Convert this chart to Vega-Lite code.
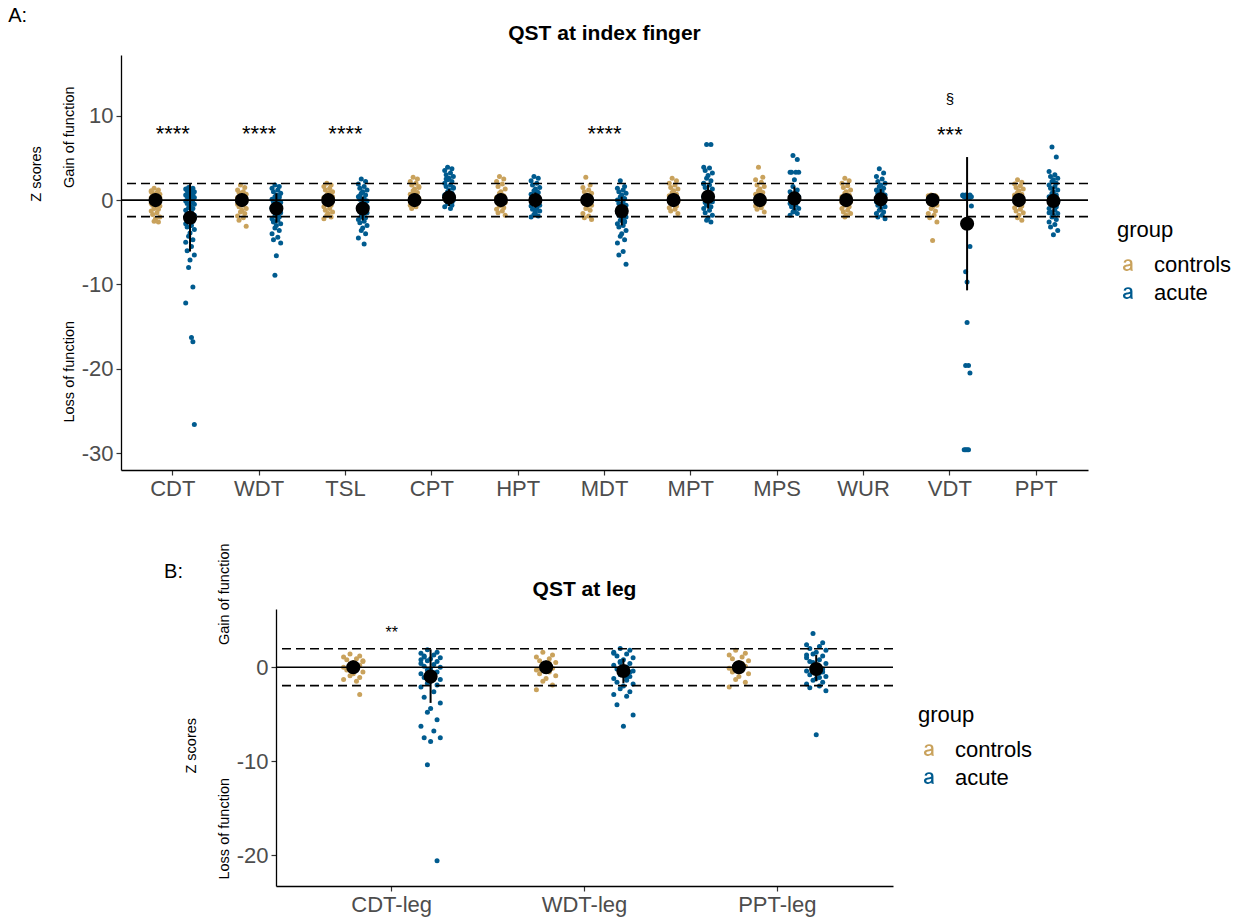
{
"$schema": "https://vega.github.io/schema/vega-lite/v6.json",
"background": "white",
"padding": {"left": 8, "top": 6, "right": 5, "bottom": 5},
"title": {"text": "A:", "anchor": "start", "frame": "bounds", "fontSize": 20, "fontWeight": "normal", "color": "#000000", "dx": -20, "offset": -3},
"config": {
 "font": "Liberation Sans",
 "view": {"stroke": null},
 "axis": {"grid": false, "domainColor": "#000000", "domainWidth": 1.3, "tickColor": "#333333", "tickWidth": 1.2, "tickSize": 5, "labelFontSize": 22, "labelColor": "#4D4D4D", "labelPadding": 3, "titleFontWeight": "normal", "titleColor": "#000000"},
 "axisX": {"labelAngle": 0, "title": null},
 "legend": {"orient": "none", "titleFontSize": 22, "titleFontWeight": "normal", "titleColor": "#000000", "labelFontSize": 22, "labelColor": "#000000", "symbolType": "M -0.78,-0.42 C -0.70,-0.88 -0.38,-1.0 0.0,-1.0 C 0.55,-1.0 0.78,-0.78 0.78,-0.30 L 0.78,0.55 C 0.78,0.78 0.82,0.90 0.88,1.0 L 0.48,1.0 C 0.44,0.94 0.42,0.86 0.41,0.78 C 0.20,0.95 -0.05,1.04 -0.30,1.04 C -0.65,1.04 -0.88,0.82 -0.88,0.50 C -0.88,0.05 -0.45,-0.05 -0.05,-0.10 C 0.20,-0.13 0.33,-0.16 0.38,-0.20 L 0.38,-0.30 C 0.38,-0.58 0.22,-0.68 -0.02,-0.68 C -0.25,-0.68 -0.36,-0.58 -0.40,-0.38 Z M 0.38,0.12 C 0.15,0.20 -0.05,0.22 -0.20,0.25 C -0.42,0.29 -0.48,0.40 -0.48,0.50 C -0.48,0.65 -0.36,0.74 -0.18,0.74 C 0.15,0.74 0.38,0.55 0.38,0.30 Z", "symbolSize": 130, "symbolStrokeWidth": 0, "rowPadding": 6, "titlePadding": 12, "labelOffset": 15},
 "title": {"fontSize": 21, "fontWeight": "bold", "color": "#000000", "offset": 10}
},
"datasets": {
 "refs": [{"v": 1.96}, {"v": -1.96}],
 "annA": [{"t":"CDT","lab":"****","z":7.0},{"t":"WDT","lab":"****","z":7.0},{"t":"TSL","lab":"****","z":7.0},{"t":"MDT","lab":"****","z":7.0},{"t":"VDT","lab":"***","z":6.9}],
 "annA2": [{"t":"VDT","lab":"§","z":11.4}],
 "annB": [{"t":"CDT-leg","lab":"**","z":3.06}],
 "sumA": [
  {"t":"CDT","g":"controls","m":0,"lo":-0.8,"hi":0.8},{"t":"CDT","g":"acute","m":-2.1,"lo":-6.1,"hi":1.9},
  {"t":"WDT","g":"controls","m":0,"lo":-0.8,"hi":0.8},{"t":"WDT","g":"acute","m":-1.0,"lo":-2.7,"hi":0.8},
  {"t":"TSL","g":"controls","m":0,"lo":-0.8,"hi":0.8},{"t":"TSL","g":"acute","m":-1.0,"lo":-2.4,"hi":0.4},
  {"t":"CPT","g":"controls","m":0,"lo":-0.8,"hi":0.8},{"t":"CPT","g":"acute","m":0.3,"lo":-0.7,"hi":1.3},
  {"t":"HPT","g":"controls","m":0,"lo":-0.8,"hi":0.8},{"t":"HPT","g":"acute","m":0.0,"lo":-0.9,"hi":0.9},
  {"t":"MDT","g":"controls","m":0,"lo":-0.8,"hi":0.8},{"t":"MDT","g":"acute","m":-1.3,"lo":-3.0,"hi":0.4},
  {"t":"MPT","g":"controls","m":0,"lo":-0.8,"hi":0.8},{"t":"MPT","g":"acute","m":0.4,"lo":-1.0,"hi":1.8},
  {"t":"MPS","g":"controls","m":0,"lo":-0.8,"hi":0.8},{"t":"MPS","g":"acute","m":0.2,"lo":-1.2,"hi":1.6},
  {"t":"WUR","g":"controls","m":0,"lo":-0.8,"hi":0.8},{"t":"WUR","g":"acute","m":0.1,"lo":-1.1,"hi":1.3},
  {"t":"VDT","g":"controls","m":0,"lo":-0.8,"hi":0.8},{"t":"VDT","g":"acute","m":-2.8,"lo":-10.7,"hi":5.1},
  {"t":"PPT","g":"controls","m":0,"lo":-0.8,"hi":0.8},{"t":"PPT","g":"acute","m":-0.1,"lo":-1.8,"hi":1.6}
 ],
 "sumB": [
  {"t":"CDT-leg","g":"controls","m":0,"lo":-0.7,"hi":0.7},{"t":"CDT-leg","g":"acute","m":-1.0,"lo":-3.8,"hi":1.9},
  {"t":"WDT-leg","g":"controls","m":0,"lo":-0.7,"hi":0.7},{"t":"WDT-leg","g":"acute","m":-0.4,"lo":-1.7,"hi":0.9},
  {"t":"PPT-leg","g":"controls","m":0,"lo":-0.7,"hi":0.7},{"t":"PPT-leg","g":"acute","m":-0.2,"lo":-1.5,"hi":1.3}
 ],
 "ptsA": [
{"t":"CDT","g":"controls","s":"c3","z":1.4},{"t":"CDT","g":"controls","s":"c6","z":1.2},{"t":"CDT","g":"controls","s":"c1","z":1.0},{"t":"CDT","g":"controls","s":"c5","z":0.9},{"t":"CDT","g":"controls","s":"c2","z":0.8},{"t":"CDT","g":"controls","s":"c7","z":0.7},{"t":"CDT","g":"controls","s":"c4","z":0.6},
{"t":"CDT","g":"controls","s":"c3","z":0.5},{"t":"CDT","g":"controls","s":"c6","z":0.4},{"t":"CDT","g":"controls","s":"c1","z":0.3},{"t":"CDT","g":"controls","s":"c5","z":0.2},{"t":"CDT","g":"controls","s":"c2","z":0.1},{"t":"CDT","g":"controls","s":"c7","z":0.0},{"t":"CDT","g":"controls","s":"c4","z":-0.1},
{"t":"CDT","g":"controls","s":"c3","z":-0.2},{"t":"CDT","g":"controls","s":"c6","z":-0.3},{"t":"CDT","g":"controls","s":"c1","z":-0.4},{"t":"CDT","g":"controls","s":"c5","z":-0.5},{"t":"CDT","g":"controls","s":"c2","z":-0.6},{"t":"CDT","g":"controls","s":"c7","z":-0.7},{"t":"CDT","g":"controls","s":"c4","z":-0.8},
{"t":"CDT","g":"controls","s":"c3","z":-1.0},{"t":"CDT","g":"controls","s":"c6","z":-1.1},{"t":"CDT","g":"controls","s":"c1","z":-1.3},{"t":"CDT","g":"controls","s":"c5","z":-1.5},{"t":"CDT","g":"controls","s":"c2","z":-1.7},{"t":"CDT","g":"controls","s":"c7","z":-2.0},{"t":"CDT","g":"controls","s":"c4","z":-2.2},
{"t":"CDT","g":"controls","s":"c3","z":-2.5},{"t":"CDT","g":"controls","s":"c6","z":-2.6},{"t":"CDT","g":"controls","s":"c1","z":1.1},{"t":"CDT","g":"controls","s":"c5","z":0.6},{"t":"CDT","g":"controls","s":"c2","z":-0.2},{"t":"CDT","g":"controls","s":"c7","z":0.3},
{"t":"CDT","g":"acute","s":"a3","z":1.5},{"t":"CDT","g":"acute","s":"a6","z":1.4},{"t":"CDT","g":"acute","s":"a1","z":1.3},{"t":"CDT","g":"acute","s":"a5","z":1.2},{"t":"CDT","g":"acute","s":"a2","z":1.1},{"t":"CDT","g":"acute","s":"a7","z":1.0},{"t":"CDT","g":"acute","s":"a4","z":0.9},
{"t":"CDT","g":"acute","s":"a3","z":0.8},{"t":"CDT","g":"acute","s":"a6","z":0.7},{"t":"CDT","g":"acute","s":"a1","z":0.6},{"t":"CDT","g":"acute","s":"a5","z":0.5},{"t":"CDT","g":"acute","s":"a2","z":0.4},{"t":"CDT","g":"acute","s":"a7","z":0.3},{"t":"CDT","g":"acute","s":"a4","z":0.2},
{"t":"CDT","g":"acute","s":"a3","z":0.1},{"t":"CDT","g":"acute","s":"a6","z":0.0},{"t":"CDT","g":"acute","s":"a1","z":-0.1},{"t":"CDT","g":"acute","s":"a5","z":-0.2},{"t":"CDT","g":"acute","s":"a2","z":-0.4},{"t":"CDT","g":"acute","s":"a7","z":-0.5},{"t":"CDT","g":"acute","s":"a4","z":-0.7},
{"t":"CDT","g":"acute","s":"a3","z":-0.9},{"t":"CDT","g":"acute","s":"a6","z":-1.0},{"t":"CDT","g":"acute","s":"a1","z":-1.2},{"t":"CDT","g":"acute","s":"a5","z":-1.4},{"t":"CDT","g":"acute","s":"a2","z":-1.6},{"t":"CDT","g":"acute","s":"a7","z":-1.8},{"t":"CDT","g":"acute","s":"a4","z":-2.0},
{"t":"CDT","g":"acute","s":"a3","z":-2.2},{"t":"CDT","g":"acute","s":"a6","z":-2.5},{"t":"CDT","g":"acute","s":"a1","z":-2.8},{"t":"CDT","g":"acute","s":"a5","z":-3.0},{"t":"CDT","g":"acute","s":"a2","z":-3.2},{"t":"CDT","g":"acute","s":"a7","z":-3.5},{"t":"CDT","g":"acute","s":"a4","z":-3.9},
{"t":"CDT","g":"acute","s":"a3","z":-4.3},{"t":"CDT","g":"acute","s":"a6","z":-4.7},{"t":"CDT","g":"acute","s":"a1","z":-5.0},{"t":"CDT","g":"acute","s":"a5","z":-5.5},{"t":"CDT","g":"acute","s":"a2","z":-6.0},{"t":"CDT","g":"acute","s":"a7","z":-6.5},{"t":"CDT","g":"acute","s":"a4","z":-7.1},
{"t":"CDT","g":"acute","s":"a3","z":-8.0},{"t":"CDT","g":"acute","s":"a6","z":-10.3},{"t":"CDT","g":"acute","s":"a1","z":-12.2},{"t":"CDT","g":"acute","s":"a5","z":-16.3},{"t":"CDT","g":"acute","s":"a6","z":-16.8},{"t":"CDT","g":"acute","s":"a7","z":-26.6},
{"t":"WDT","g":"controls","s":"c3","z":1.8},{"t":"WDT","g":"controls","s":"c6","z":1.5},{"t":"WDT","g":"controls","s":"c1","z":1.2},{"t":"WDT","g":"controls","s":"c5","z":1.0},{"t":"WDT","g":"controls","s":"c2","z":0.9},{"t":"WDT","g":"controls","s":"c7","z":0.7},{"t":"WDT","g":"controls","s":"c4","z":0.6},
{"t":"WDT","g":"controls","s":"c3","z":0.5},{"t":"WDT","g":"controls","s":"c6","z":0.4},{"t":"WDT","g":"controls","s":"c1","z":0.3},{"t":"WDT","g":"controls","s":"c5","z":0.2},{"t":"WDT","g":"controls","s":"c2","z":0.1},{"t":"WDT","g":"controls","s":"c7","z":0.0},{"t":"WDT","g":"controls","s":"c4","z":-0.1},
{"t":"WDT","g":"controls","s":"c3","z":-0.2},{"t":"WDT","g":"controls","s":"c6","z":-0.3},{"t":"WDT","g":"controls","s":"c1","z":-0.5},{"t":"WDT","g":"controls","s":"c5","z":-0.6},{"t":"WDT","g":"controls","s":"c2","z":-0.8},{"t":"WDT","g":"controls","s":"c7","z":-1.0},{"t":"WDT","g":"controls","s":"c4","z":-1.2},
{"t":"WDT","g":"controls","s":"c3","z":-1.4},{"t":"WDT","g":"controls","s":"c6","z":-1.6},{"t":"WDT","g":"controls","s":"c1","z":-1.9},{"t":"WDT","g":"controls","s":"c5","z":-2.1},{"t":"WDT","g":"controls","s":"c2","z":-2.4},{"t":"WDT","g":"controls","s":"c7","z":-3.1},{"t":"WDT","g":"controls","s":"c4","z":0.8},
{"t":"WDT","g":"controls","s":"c3","z":-0.4},{"t":"WDT","g":"controls","s":"c6","z":0.2},
{"t":"WDT","g":"acute","s":"a3","z":1.8},{"t":"WDT","g":"acute","s":"a6","z":1.6},{"t":"WDT","g":"acute","s":"a1","z":1.4},{"t":"WDT","g":"acute","s":"a5","z":1.2},{"t":"WDT","g":"acute","s":"a2","z":1.0},{"t":"WDT","g":"acute","s":"a7","z":0.8},{"t":"WDT","g":"acute","s":"a4","z":0.6},
{"t":"WDT","g":"acute","s":"a3","z":0.4},{"t":"WDT","g":"acute","s":"a6","z":0.3},{"t":"WDT","g":"acute","s":"a1","z":0.1},{"t":"WDT","g":"acute","s":"a5","z":0.0},{"t":"WDT","g":"acute","s":"a2","z":-0.2},{"t":"WDT","g":"acute","s":"a7","z":-0.3},{"t":"WDT","g":"acute","s":"a4","z":-0.5},
{"t":"WDT","g":"acute","s":"a3","z":-0.6},{"t":"WDT","g":"acute","s":"a6","z":-0.8},{"t":"WDT","g":"acute","s":"a1","z":-1.0},{"t":"WDT","g":"acute","s":"a5","z":-1.1},{"t":"WDT","g":"acute","s":"a2","z":-1.3},{"t":"WDT","g":"acute","s":"a7","z":-1.5},{"t":"WDT","g":"acute","s":"a4","z":-1.7},
{"t":"WDT","g":"acute","s":"a3","z":-1.9},{"t":"WDT","g":"acute","s":"a6","z":-2.0},{"t":"WDT","g":"acute","s":"a1","z":-2.2},{"t":"WDT","g":"acute","s":"a5","z":-2.4},{"t":"WDT","g":"acute","s":"a2","z":-2.6},{"t":"WDT","g":"acute","s":"a7","z":-2.8},{"t":"WDT","g":"acute","s":"a4","z":-3.0},
{"t":"WDT","g":"acute","s":"a3","z":-3.3},{"t":"WDT","g":"acute","s":"a6","z":-3.6},{"t":"WDT","g":"acute","s":"a1","z":-4.0},{"t":"WDT","g":"acute","s":"a5","z":-4.4},{"t":"WDT","g":"acute","s":"a2","z":-4.7},{"t":"WDT","g":"acute","s":"a7","z":-5.1},{"t":"WDT","g":"acute","s":"a4","z":-6.6},
{"t":"WDT","g":"acute","s":"a3","z":-8.9},{"t":"WDT","g":"acute","s":"a6","z":0.5},{"t":"WDT","g":"acute","s":"a1","z":-0.9},{"t":"WDT","g":"acute","s":"a5","z":-1.6},{"t":"WDT","g":"acute","s":"a2","z":-2.5},
{"t":"TSL","g":"controls","s":"c3","z":2.0},{"t":"TSL","g":"controls","s":"c6","z":1.8},{"t":"TSL","g":"controls","s":"c1","z":1.6},{"t":"TSL","g":"controls","s":"c5","z":1.4},{"t":"TSL","g":"controls","s":"c2","z":1.2},{"t":"TSL","g":"controls","s":"c7","z":1.0},{"t":"TSL","g":"controls","s":"c4","z":0.8},
{"t":"TSL","g":"controls","s":"c3","z":0.6},{"t":"TSL","g":"controls","s":"c6","z":0.5},{"t":"TSL","g":"controls","s":"c1","z":0.3},{"t":"TSL","g":"controls","s":"c5","z":0.2},{"t":"TSL","g":"controls","s":"c2","z":0.0},{"t":"TSL","g":"controls","s":"c7","z":-0.1},{"t":"TSL","g":"controls","s":"c4","z":-0.3},
{"t":"TSL","g":"controls","s":"c3","z":-0.4},{"t":"TSL","g":"controls","s":"c6","z":-0.6},{"t":"TSL","g":"controls","s":"c1","z":-0.8},{"t":"TSL","g":"controls","s":"c5","z":-1.0},{"t":"TSL","g":"controls","s":"c2","z":-1.2},{"t":"TSL","g":"controls","s":"c7","z":-1.4},{"t":"TSL","g":"controls","s":"c4","z":-1.6},
{"t":"TSL","g":"controls","s":"c3","z":-1.8},{"t":"TSL","g":"controls","s":"c6","z":-2.0},{"t":"TSL","g":"controls","s":"c1","z":-2.2},{"t":"TSL","g":"controls","s":"c5","z":0.9},{"t":"TSL","g":"controls","s":"c2","z":-0.5},{"t":"TSL","g":"controls","s":"c7","z":0.4},
{"t":"TSL","g":"acute","s":"a3","z":2.5},{"t":"TSL","g":"acute","s":"a6","z":2.2},{"t":"TSL","g":"acute","s":"a1","z":1.9},{"t":"TSL","g":"acute","s":"a5","z":1.6},{"t":"TSL","g":"acute","s":"a2","z":1.4},{"t":"TSL","g":"acute","s":"a7","z":1.2},{"t":"TSL","g":"acute","s":"a4","z":1.0},
{"t":"TSL","g":"acute","s":"a3","z":0.8},{"t":"TSL","g":"acute","s":"a6","z":0.6},{"t":"TSL","g":"acute","s":"a1","z":0.4},{"t":"TSL","g":"acute","s":"a5","z":0.2},{"t":"TSL","g":"acute","s":"a2","z":0.1},{"t":"TSL","g":"acute","s":"a7","z":-0.1},{"t":"TSL","g":"acute","s":"a4","z":-0.3},
{"t":"TSL","g":"acute","s":"a3","z":-0.5},{"t":"TSL","g":"acute","s":"a6","z":-0.7},{"t":"TSL","g":"acute","s":"a1","z":-0.9},{"t":"TSL","g":"acute","s":"a5","z":-1.1},{"t":"TSL","g":"acute","s":"a2","z":-1.3},{"t":"TSL","g":"acute","s":"a7","z":-1.5},{"t":"TSL","g":"acute","s":"a4","z":-1.7},
{"t":"TSL","g":"acute","s":"a3","z":-1.9},{"t":"TSL","g":"acute","s":"a6","z":-2.1},{"t":"TSL","g":"acute","s":"a1","z":-2.3},{"t":"TSL","g":"acute","s":"a5","z":-2.5},{"t":"TSL","g":"acute","s":"a2","z":-2.7},{"t":"TSL","g":"acute","s":"a7","z":-3.0},{"t":"TSL","g":"acute","s":"a4","z":-3.3},
{"t":"TSL","g":"acute","s":"a3","z":-3.6},{"t":"TSL","g":"acute","s":"a6","z":-4.0},{"t":"TSL","g":"acute","s":"a1","z":-4.5},{"t":"TSL","g":"acute","s":"a5","z":-5.2},{"t":"TSL","g":"acute","s":"a2","z":0.5},{"t":"TSL","g":"acute","s":"a7","z":-0.8},{"t":"TSL","g":"acute","s":"a4","z":-1.4},
{"t":"TSL","g":"acute","s":"a3","z":-2.0},
{"t":"CPT","g":"controls","s":"c3","z":2.7},{"t":"CPT","g":"controls","s":"c6","z":2.5},{"t":"CPT","g":"controls","s":"c1","z":2.2},{"t":"CPT","g":"controls","s":"c5","z":2.0},{"t":"CPT","g":"controls","s":"c2","z":1.8},{"t":"CPT","g":"controls","s":"c7","z":1.5},{"t":"CPT","g":"controls","s":"c4","z":1.3},
{"t":"CPT","g":"controls","s":"c3","z":1.1},{"t":"CPT","g":"controls","s":"c6","z":0.9},{"t":"CPT","g":"controls","s":"c1","z":0.7},{"t":"CPT","g":"controls","s":"c5","z":0.5},{"t":"CPT","g":"controls","s":"c2","z":0.3},{"t":"CPT","g":"controls","s":"c7","z":0.2},{"t":"CPT","g":"controls","s":"c4","z":0.0},
{"t":"CPT","g":"controls","s":"c3","z":-0.2},{"t":"CPT","g":"controls","s":"c6","z":-0.4},{"t":"CPT","g":"controls","s":"c1","z":-0.6},{"t":"CPT","g":"controls","s":"c5","z":-0.8},{"t":"CPT","g":"controls","s":"c2","z":-1.0},{"t":"CPT","g":"controls","s":"c7","z":1.6},{"t":"CPT","g":"controls","s":"c4","z":0.8},
{"t":"CPT","g":"controls","s":"c3","z":0.1},{"t":"CPT","g":"controls","s":"c6","z":-0.3},
{"t":"CPT","g":"acute","s":"a3","z":3.9},{"t":"CPT","g":"acute","s":"a6","z":3.7},{"t":"CPT","g":"acute","s":"a1","z":3.5},{"t":"CPT","g":"acute","s":"a5","z":3.2},{"t":"CPT","g":"acute","s":"a2","z":3.0},{"t":"CPT","g":"acute","s":"a7","z":2.8},{"t":"CPT","g":"acute","s":"a4","z":2.6},
{"t":"CPT","g":"acute","s":"a3","z":2.4},{"t":"CPT","g":"acute","s":"a6","z":2.2},{"t":"CPT","g":"acute","s":"a1","z":2.0},{"t":"CPT","g":"acute","s":"a5","z":1.8},{"t":"CPT","g":"acute","s":"a2","z":1.6},{"t":"CPT","g":"acute","s":"a7","z":1.4},{"t":"CPT","g":"acute","s":"a4","z":1.2},
{"t":"CPT","g":"acute","s":"a3","z":1.0},{"t":"CPT","g":"acute","s":"a6","z":0.8},{"t":"CPT","g":"acute","s":"a1","z":0.6},{"t":"CPT","g":"acute","s":"a5","z":0.4},{"t":"CPT","g":"acute","s":"a2","z":0.2},{"t":"CPT","g":"acute","s":"a7","z":0.0},{"t":"CPT","g":"acute","s":"a4","z":-0.2},
{"t":"CPT","g":"acute","s":"a3","z":-0.4},{"t":"CPT","g":"acute","s":"a6","z":-0.6},{"t":"CPT","g":"acute","s":"a1","z":-0.8},{"t":"CPT","g":"acute","s":"a5","z":-1.0},{"t":"CPT","g":"acute","s":"a2","z":2.5},{"t":"CPT","g":"acute","s":"a7","z":1.5},{"t":"CPT","g":"acute","s":"a4","z":0.9},
{"t":"CPT","g":"acute","s":"a3","z":0.3},{"t":"CPT","g":"acute","s":"a6","z":-0.3},
{"t":"HPT","g":"controls","s":"c3","z":2.8},{"t":"HPT","g":"controls","s":"c6","z":2.5},{"t":"HPT","g":"controls","s":"c1","z":2.2},{"t":"HPT","g":"controls","s":"c5","z":1.9},{"t":"HPT","g":"controls","s":"c2","z":1.6},{"t":"HPT","g":"controls","s":"c7","z":1.3},{"t":"HPT","g":"controls","s":"c4","z":1.0},
{"t":"HPT","g":"controls","s":"c3","z":0.8},{"t":"HPT","g":"controls","s":"c6","z":0.5},{"t":"HPT","g":"controls","s":"c1","z":0.3},{"t":"HPT","g":"controls","s":"c5","z":0.1},{"t":"HPT","g":"controls","s":"c2","z":-0.1},{"t":"HPT","g":"controls","s":"c7","z":-0.3},{"t":"HPT","g":"controls","s":"c4","z":-0.5},
{"t":"HPT","g":"controls","s":"c3","z":-0.7},{"t":"HPT","g":"controls","s":"c6","z":-0.9},{"t":"HPT","g":"controls","s":"c1","z":-1.1},{"t":"HPT","g":"controls","s":"c5","z":-1.3},{"t":"HPT","g":"controls","s":"c2","z":-1.5},{"t":"HPT","g":"controls","s":"c7","z":-1.8},{"t":"HPT","g":"controls","s":"c4","z":0.6},
{"t":"HPT","g":"controls","s":"c3","z":-0.2},
{"t":"HPT","g":"acute","s":"a3","z":2.8},{"t":"HPT","g":"acute","s":"a6","z":2.6},{"t":"HPT","g":"acute","s":"a1","z":2.3},{"t":"HPT","g":"acute","s":"a5","z":2.0},{"t":"HPT","g":"acute","s":"a2","z":1.8},{"t":"HPT","g":"acute","s":"a7","z":1.5},{"t":"HPT","g":"acute","s":"a4","z":1.3},
{"t":"HPT","g":"acute","s":"a3","z":1.1},{"t":"HPT","g":"acute","s":"a6","z":0.9},{"t":"HPT","g":"acute","s":"a1","z":0.7},{"t":"HPT","g":"acute","s":"a5","z":0.5},{"t":"HPT","g":"acute","s":"a2","z":0.3},{"t":"HPT","g":"acute","s":"a7","z":0.1},{"t":"HPT","g":"acute","s":"a4","z":-0.1},
{"t":"HPT","g":"acute","s":"a3","z":-0.3},{"t":"HPT","g":"acute","s":"a6","z":-0.5},{"t":"HPT","g":"acute","s":"a1","z":-0.7},{"t":"HPT","g":"acute","s":"a5","z":-0.9},{"t":"HPT","g":"acute","s":"a2","z":-1.1},{"t":"HPT","g":"acute","s":"a7","z":-1.3},{"t":"HPT","g":"acute","s":"a4","z":-1.5},
{"t":"HPT","g":"acute","s":"a3","z":-1.7},{"t":"HPT","g":"acute","s":"a6","z":-1.9},{"t":"HPT","g":"acute","s":"a1","z":-2.0},{"t":"HPT","g":"acute","s":"a5","z":1.0},{"t":"HPT","g":"acute","s":"a2","z":0.2},{"t":"HPT","g":"acute","s":"a7","z":-0.6},{"t":"HPT","g":"acute","s":"a4","z":-1.2},
{"t":"MDT","g":"controls","s":"c3","z":2.7},{"t":"MDT","g":"controls","s":"c6","z":1.8},{"t":"MDT","g":"controls","s":"c1","z":1.5},{"t":"MDT","g":"controls","s":"c5","z":1.2},{"t":"MDT","g":"controls","s":"c2","z":1.0},{"t":"MDT","g":"controls","s":"c7","z":0.8},{"t":"MDT","g":"controls","s":"c4","z":0.6},
{"t":"MDT","g":"controls","s":"c3","z":0.4},{"t":"MDT","g":"controls","s":"c6","z":0.2},{"t":"MDT","g":"controls","s":"c1","z":0.0},{"t":"MDT","g":"controls","s":"c5","z":-0.2},{"t":"MDT","g":"controls","s":"c2","z":-0.4},{"t":"MDT","g":"controls","s":"c7","z":-0.6},{"t":"MDT","g":"controls","s":"c4","z":-0.8},
{"t":"MDT","g":"controls","s":"c3","z":-1.0},{"t":"MDT","g":"controls","s":"c6","z":-1.2},{"t":"MDT","g":"controls","s":"c1","z":-1.6},{"t":"MDT","g":"controls","s":"c5","z":-1.9},{"t":"MDT","g":"controls","s":"c2","z":-2.1},{"t":"MDT","g":"controls","s":"c7","z":-2.3},{"t":"MDT","g":"controls","s":"c4","z":0.5},
{"t":"MDT","g":"controls","s":"c3","z":-0.3},
{"t":"MDT","g":"acute","s":"a3","z":2.3},{"t":"MDT","g":"acute","s":"a6","z":1.6},{"t":"MDT","g":"acute","s":"a1","z":1.4},{"t":"MDT","g":"acute","s":"a5","z":1.2},{"t":"MDT","g":"acute","s":"a2","z":1.0},{"t":"MDT","g":"acute","s":"a7","z":0.8},{"t":"MDT","g":"acute","s":"a4","z":0.6},
{"t":"MDT","g":"acute","s":"a3","z":0.4},{"t":"MDT","g":"acute","s":"a6","z":0.2},{"t":"MDT","g":"acute","s":"a1","z":0.0},{"t":"MDT","g":"acute","s":"a5","z":-0.2},{"t":"MDT","g":"acute","s":"a2","z":-0.4},{"t":"MDT","g":"acute","s":"a7","z":-0.6},{"t":"MDT","g":"acute","s":"a4","z":-0.8},
{"t":"MDT","g":"acute","s":"a3","z":-1.0},{"t":"MDT","g":"acute","s":"a6","z":-1.2},{"t":"MDT","g":"acute","s":"a1","z":-1.4},{"t":"MDT","g":"acute","s":"a5","z":-1.6},{"t":"MDT","g":"acute","s":"a2","z":-1.8},{"t":"MDT","g":"acute","s":"a7","z":-2.0},{"t":"MDT","g":"acute","s":"a4","z":-2.2},
{"t":"MDT","g":"acute","s":"a3","z":-2.4},{"t":"MDT","g":"acute","s":"a6","z":-2.6},{"t":"MDT","g":"acute","s":"a1","z":-2.8},{"t":"MDT","g":"acute","s":"a5","z":-3.0},{"t":"MDT","g":"acute","s":"a2","z":-3.2},{"t":"MDT","g":"acute","s":"a7","z":-3.6},{"t":"MDT","g":"acute","s":"a4","z":-4.0},
{"t":"MDT","g":"acute","s":"a3","z":-4.3},{"t":"MDT","g":"acute","s":"a6","z":-4.7},{"t":"MDT","g":"acute","s":"a1","z":-5.1},{"t":"MDT","g":"acute","s":"a5","z":-6.1},{"t":"MDT","g":"acute","s":"a2","z":-6.5},{"t":"MDT","g":"acute","s":"a7","z":-7.6},{"t":"MDT","g":"acute","s":"a4","z":-0.5},
{"t":"MDT","g":"acute","s":"a3","z":-1.5},{"t":"MDT","g":"acute","s":"a6","z":-2.5},
{"t":"MPT","g":"controls","s":"c3","z":2.6},{"t":"MPT","g":"controls","s":"c6","z":2.3},{"t":"MPT","g":"controls","s":"c1","z":2.0},{"t":"MPT","g":"controls","s":"c5","z":1.8},{"t":"MPT","g":"controls","s":"c2","z":1.5},{"t":"MPT","g":"controls","s":"c7","z":1.3},{"t":"MPT","g":"controls","s":"c4","z":1.1},
{"t":"MPT","g":"controls","s":"c3","z":0.9},{"t":"MPT","g":"controls","s":"c6","z":0.7},{"t":"MPT","g":"controls","s":"c1","z":0.5},{"t":"MPT","g":"controls","s":"c5","z":0.3},{"t":"MPT","g":"controls","s":"c2","z":0.1},{"t":"MPT","g":"controls","s":"c7","z":-0.1},{"t":"MPT","g":"controls","s":"c4","z":-0.3},
{"t":"MPT","g":"controls","s":"c3","z":-0.5},{"t":"MPT","g":"controls","s":"c6","z":-0.7},{"t":"MPT","g":"controls","s":"c1","z":-0.9},{"t":"MPT","g":"controls","s":"c5","z":-1.1},{"t":"MPT","g":"controls","s":"c2","z":-1.3},{"t":"MPT","g":"controls","s":"c7","z":-1.6},{"t":"MPT","g":"controls","s":"c4","z":0.6},
{"t":"MPT","g":"controls","s":"c3","z":0.0},
{"t":"MPT","g":"acute","s":"a3","z":6.6},{"t":"MPT","g":"acute","s":"a6","z":6.6},{"t":"MPT","g":"acute","s":"a1","z":3.9},{"t":"MPT","g":"acute","s":"a5","z":3.8},{"t":"MPT","g":"acute","s":"a2","z":3.5},{"t":"MPT","g":"acute","s":"a7","z":3.2},{"t":"MPT","g":"acute","s":"a4","z":2.9},
{"t":"MPT","g":"acute","s":"a3","z":2.6},{"t":"MPT","g":"acute","s":"a6","z":2.3},{"t":"MPT","g":"acute","s":"a1","z":2.0},{"t":"MPT","g":"acute","s":"a5","z":1.8},{"t":"MPT","g":"acute","s":"a2","z":1.5},{"t":"MPT","g":"acute","s":"a7","z":1.3},{"t":"MPT","g":"acute","s":"a4","z":1.0},
{"t":"MPT","g":"acute","s":"a3","z":0.8},{"t":"MPT","g":"acute","s":"a6","z":0.6},{"t":"MPT","g":"acute","s":"a1","z":0.4},{"t":"MPT","g":"acute","s":"a5","z":0.2},{"t":"MPT","g":"acute","s":"a2","z":0.0},{"t":"MPT","g":"acute","s":"a7","z":-0.2},{"t":"MPT","g":"acute","s":"a4","z":-0.4},
{"t":"MPT","g":"acute","s":"a3","z":-0.6},{"t":"MPT","g":"acute","s":"a6","z":-0.8},{"t":"MPT","g":"acute","s":"a1","z":-1.0},{"t":"MPT","g":"acute","s":"a5","z":-1.2},{"t":"MPT","g":"acute","s":"a2","z":-1.5},{"t":"MPT","g":"acute","s":"a7","z":-1.8},{"t":"MPT","g":"acute","s":"a4","z":-2.1},
{"t":"MPT","g":"acute","s":"a3","z":-2.4},{"t":"MPT","g":"acute","s":"a6","z":-2.6},{"t":"MPT","g":"acute","s":"a1","z":1.9},{"t":"MPT","g":"acute","s":"a5","z":0.7},{"t":"MPT","g":"acute","s":"a2","z":-0.3},
{"t":"MPS","g":"controls","s":"c3","z":3.9},{"t":"MPS","g":"controls","s":"c6","z":2.7},{"t":"MPS","g":"controls","s":"c1","z":2.4},{"t":"MPS","g":"controls","s":"c5","z":2.1},{"t":"MPS","g":"controls","s":"c2","z":1.8},{"t":"MPS","g":"controls","s":"c7","z":1.6},{"t":"MPS","g":"controls","s":"c4","z":1.3},
{"t":"MPS","g":"controls","s":"c3","z":1.1},{"t":"MPS","g":"controls","s":"c6","z":0.9},{"t":"MPS","g":"controls","s":"c1","z":0.7},{"t":"MPS","g":"controls","s":"c5","z":0.5},{"t":"MPS","g":"controls","s":"c2","z":0.3},{"t":"MPS","g":"controls","s":"c7","z":0.1},{"t":"MPS","g":"controls","s":"c4","z":-0.1},
{"t":"MPS","g":"controls","s":"c3","z":-0.3},{"t":"MPS","g":"controls","s":"c6","z":-0.5},{"t":"MPS","g":"controls","s":"c1","z":-0.7},{"t":"MPS","g":"controls","s":"c5","z":-0.9},{"t":"MPS","g":"controls","s":"c2","z":-1.1},{"t":"MPS","g":"controls","s":"c7","z":-1.4},{"t":"MPS","g":"controls","s":"c4","z":0.8},
{"t":"MPS","g":"controls","s":"c3","z":0.2},
{"t":"MPS","g":"acute","s":"a3","z":5.3},{"t":"MPS","g":"acute","s":"a6","z":4.8},{"t":"MPS","g":"acute","s":"a1","z":3.3},{"t":"MPS","g":"acute","s":"a5","z":3.3},{"t":"MPS","g":"acute","s":"a2","z":3.3},{"t":"MPS","g":"acute","s":"a7","z":3.3},{"t":"MPS","g":"acute","s":"a4","z":2.4},
{"t":"MPS","g":"acute","s":"a3","z":1.6},{"t":"MPS","g":"acute","s":"a6","z":1.2},{"t":"MPS","g":"acute","s":"a1","z":1.0},{"t":"MPS","g":"acute","s":"a5","z":0.8},{"t":"MPS","g":"acute","s":"a2","z":0.6},{"t":"MPS","g":"acute","s":"a7","z":0.4},{"t":"MPS","g":"acute","s":"a4","z":0.2},
{"t":"MPS","g":"acute","s":"a3","z":0.0},{"t":"MPS","g":"acute","s":"a6","z":-0.2},{"t":"MPS","g":"acute","s":"a1","z":-0.4},{"t":"MPS","g":"acute","s":"a5","z":-0.6},{"t":"MPS","g":"acute","s":"a2","z":-0.8},{"t":"MPS","g":"acute","s":"a7","z":-1.0},{"t":"MPS","g":"acute","s":"a4","z":-1.2},
{"t":"MPS","g":"acute","s":"a3","z":-1.4},{"t":"MPS","g":"acute","s":"a6","z":-1.6},{"t":"MPS","g":"acute","s":"a1","z":-1.8},{"t":"MPS","g":"acute","s":"a5","z":0.9},{"t":"MPS","g":"acute","s":"a2","z":-0.1},
{"t":"WUR","g":"controls","s":"c3","z":2.6},{"t":"WUR","g":"controls","s":"c6","z":2.3},{"t":"WUR","g":"controls","s":"c1","z":2.0},{"t":"WUR","g":"controls","s":"c5","z":1.7},{"t":"WUR","g":"controls","s":"c2","z":1.5},{"t":"WUR","g":"controls","s":"c7","z":1.2},{"t":"WUR","g":"controls","s":"c4","z":1.0},
{"t":"WUR","g":"controls","s":"c3","z":0.8},{"t":"WUR","g":"controls","s":"c6","z":0.6},{"t":"WUR","g":"controls","s":"c1","z":0.4},{"t":"WUR","g":"controls","s":"c5","z":0.2},{"t":"WUR","g":"controls","s":"c2","z":0.0},{"t":"WUR","g":"controls","s":"c7","z":-0.2},{"t":"WUR","g":"controls","s":"c4","z":-0.4},
{"t":"WUR","g":"controls","s":"c3","z":-0.6},{"t":"WUR","g":"controls","s":"c6","z":-0.8},{"t":"WUR","g":"controls","s":"c1","z":-1.0},{"t":"WUR","g":"controls","s":"c5","z":-1.2},{"t":"WUR","g":"controls","s":"c2","z":-1.4},{"t":"WUR","g":"controls","s":"c7","z":-1.6},{"t":"WUR","g":"controls","s":"c4","z":-1.8},
{"t":"WUR","g":"controls","s":"c3","z":-2.0},{"t":"WUR","g":"controls","s":"c6","z":0.5},{"t":"WUR","g":"controls","s":"c1","z":-0.3},
{"t":"WUR","g":"acute","s":"a3","z":3.7},{"t":"WUR","g":"acute","s":"a6","z":3.2},{"t":"WUR","g":"acute","s":"a1","z":2.8},{"t":"WUR","g":"acute","s":"a5","z":2.5},{"t":"WUR","g":"acute","s":"a2","z":2.2},{"t":"WUR","g":"acute","s":"a7","z":2.0},{"t":"WUR","g":"acute","s":"a4","z":1.8},
{"t":"WUR","g":"acute","s":"a3","z":1.6},{"t":"WUR","g":"acute","s":"a6","z":1.4},{"t":"WUR","g":"acute","s":"a1","z":1.2},{"t":"WUR","g":"acute","s":"a5","z":1.0},{"t":"WUR","g":"acute","s":"a2","z":0.8},{"t":"WUR","g":"acute","s":"a7","z":0.6},{"t":"WUR","g":"acute","s":"a4","z":0.4},
{"t":"WUR","g":"acute","s":"a3","z":0.2},{"t":"WUR","g":"acute","s":"a6","z":0.0},{"t":"WUR","g":"acute","s":"a1","z":-0.2},{"t":"WUR","g":"acute","s":"a5","z":-0.4},{"t":"WUR","g":"acute","s":"a2","z":-0.6},{"t":"WUR","g":"acute","s":"a7","z":-0.8},{"t":"WUR","g":"acute","s":"a4","z":-1.0},
{"t":"WUR","g":"acute","s":"a3","z":-1.2},{"t":"WUR","g":"acute","s":"a6","z":-1.4},{"t":"WUR","g":"acute","s":"a1","z":-1.6},{"t":"WUR","g":"acute","s":"a5","z":-1.8},{"t":"WUR","g":"acute","s":"a2","z":-2.0},{"t":"WUR","g":"acute","s":"a7","z":-2.2},{"t":"WUR","g":"acute","s":"a4","z":1.1},
{"t":"WUR","g":"acute","s":"a3","z":0.3},{"t":"WUR","g":"acute","s":"a6","z":-0.5},
{"t":"VDT","g":"controls","s":"c3","z":0.6},{"t":"VDT","g":"controls","s":"c6","z":0.5},{"t":"VDT","g":"controls","s":"c1","z":0.5},{"t":"VDT","g":"controls","s":"c5","z":0.4},{"t":"VDT","g":"controls","s":"c2","z":0.4},{"t":"VDT","g":"controls","s":"c7","z":0.3},{"t":"VDT","g":"controls","s":"c4","z":0.3},
{"t":"VDT","g":"controls","s":"c3","z":0.2},{"t":"VDT","g":"controls","s":"c6","z":0.1},{"t":"VDT","g":"controls","s":"c1","z":0.0},{"t":"VDT","g":"controls","s":"c5","z":-0.2},{"t":"VDT","g":"controls","s":"c2","z":-0.4},{"t":"VDT","g":"controls","s":"c7","z":-0.6},{"t":"VDT","g":"controls","s":"c4","z":-0.8},
{"t":"VDT","g":"controls","s":"c3","z":-1.0},{"t":"VDT","g":"controls","s":"c6","z":-1.3},{"t":"VDT","g":"controls","s":"c1","z":-1.6},{"t":"VDT","g":"controls","s":"c5","z":-1.8},{"t":"VDT","g":"controls","s":"c2","z":-2.1},{"t":"VDT","g":"controls","s":"c7","z":-2.6},{"t":"VDT","g":"controls","s":"c4","z":-4.8},
{"t":"VDT","g":"controls","s":"c3","z":0.5},{"t":"VDT","g":"controls","s":"c6","z":0.3},
{"t":"VDT","g":"acute","s":"a3","z":0.6},{"t":"VDT","g":"acute","s":"a6","z":0.6},{"t":"VDT","g":"acute","s":"a1","z":0.5},{"t":"VDT","g":"acute","s":"a5","z":0.5},{"t":"VDT","g":"acute","s":"a2","z":0.5},{"t":"VDT","g":"acute","s":"a7","z":0.4},{"t":"VDT","g":"acute","s":"a4","z":0.4},
{"t":"VDT","g":"acute","s":"a3","z":0.3},{"t":"VDT","g":"acute","s":"a6","z":0.3},{"t":"VDT","g":"acute","s":"a1","z":0.6},{"t":"VDT","g":"acute","s":"a5","z":0.5},{"t":"VDT","g":"acute","s":"a2","z":0.4},{"t":"VDT","g":"acute","s":"a7","z":-0.7},{"t":"VDT","g":"acute","s":"a6","z":-5.5},
{"t":"VDT","g":"acute","s":"a3","z":-8.5},{"t":"VDT","g":"acute","s":"a4","z":-9.7},{"t":"VDT","g":"acute","s":"a4","z":-14.5},{"t":"VDT","g":"acute","s":"a3","z":-19.6},{"t":"VDT","g":"acute","s":"a5","z":-19.6},{"t":"VDT","g":"acute","s":"a6","z":-20.5},{"t":"VDT","g":"acute","s":"a4","z":-29.6},
{"t":"VDT","g":"acute","s":"a3","z":-29.6},{"t":"VDT","g":"acute","s":"a5","z":-29.6},{"t":"VDT","g":"acute","s":"a2","z":-29.6},
{"t":"PPT","g":"controls","s":"c3","z":2.4},{"t":"PPT","g":"controls","s":"c6","z":2.1},{"t":"PPT","g":"controls","s":"c1","z":1.9},{"t":"PPT","g":"controls","s":"c5","z":1.7},{"t":"PPT","g":"controls","s":"c2","z":1.5},{"t":"PPT","g":"controls","s":"c7","z":1.3},{"t":"PPT","g":"controls","s":"c4","z":1.1},
{"t":"PPT","g":"controls","s":"c3","z":0.9},{"t":"PPT","g":"controls","s":"c6","z":0.7},{"t":"PPT","g":"controls","s":"c1","z":0.5},{"t":"PPT","g":"controls","s":"c5","z":0.3},{"t":"PPT","g":"controls","s":"c2","z":0.1},{"t":"PPT","g":"controls","s":"c7","z":-0.1},{"t":"PPT","g":"controls","s":"c4","z":-0.3},
{"t":"PPT","g":"controls","s":"c3","z":-0.5},{"t":"PPT","g":"controls","s":"c6","z":-0.7},{"t":"PPT","g":"controls","s":"c1","z":-0.9},{"t":"PPT","g":"controls","s":"c5","z":-1.1},{"t":"PPT","g":"controls","s":"c2","z":-1.3},{"t":"PPT","g":"controls","s":"c7","z":-1.5},{"t":"PPT","g":"controls","s":"c4","z":-1.8},
{"t":"PPT","g":"controls","s":"c3","z":-2.1},{"t":"PPT","g":"controls","s":"c6","z":-2.4},{"t":"PPT","g":"controls","s":"c1","z":0.6},{"t":"PPT","g":"controls","s":"c5","z":-0.2},
{"t":"PPT","g":"acute","s":"a3","z":6.3},{"t":"PPT","g":"acute","s":"a6","z":5.1},{"t":"PPT","g":"acute","s":"a1","z":3.4},{"t":"PPT","g":"acute","s":"a5","z":3.0},{"t":"PPT","g":"acute","s":"a2","z":2.8},{"t":"PPT","g":"acute","s":"a7","z":2.6},{"t":"PPT","g":"acute","s":"a4","z":2.4},
{"t":"PPT","g":"acute","s":"a3","z":2.2},{"t":"PPT","g":"acute","s":"a6","z":2.0},{"t":"PPT","g":"acute","s":"a1","z":1.8},{"t":"PPT","g":"acute","s":"a5","z":1.6},{"t":"PPT","g":"acute","s":"a2","z":1.4},{"t":"PPT","g":"acute","s":"a7","z":1.2},{"t":"PPT","g":"acute","s":"a4","z":1.0},
{"t":"PPT","g":"acute","s":"a3","z":0.8},{"t":"PPT","g":"acute","s":"a6","z":0.6},{"t":"PPT","g":"acute","s":"a1","z":0.4},{"t":"PPT","g":"acute","s":"a5","z":0.2},{"t":"PPT","g":"acute","s":"a2","z":0.0},{"t":"PPT","g":"acute","s":"a7","z":-0.2},{"t":"PPT","g":"acute","s":"a4","z":-0.4},
{"t":"PPT","g":"acute","s":"a3","z":-0.6},{"t":"PPT","g":"acute","s":"a6","z":-0.8},{"t":"PPT","g":"acute","s":"a1","z":-1.0},{"t":"PPT","g":"acute","s":"a5","z":-1.2},{"t":"PPT","g":"acute","s":"a2","z":-1.4},{"t":"PPT","g":"acute","s":"a7","z":-1.6},{"t":"PPT","g":"acute","s":"a4","z":-1.8},
{"t":"PPT","g":"acute","s":"a3","z":-2.0},{"t":"PPT","g":"acute","s":"a6","z":-2.3},{"t":"PPT","g":"acute","s":"a1","z":-2.6},{"t":"PPT","g":"acute","s":"a5","z":-2.9},{"t":"PPT","g":"acute","s":"a2","z":-3.2},{"t":"PPT","g":"acute","s":"a7","z":-3.6},{"t":"PPT","g":"acute","s":"a4","z":-4.1},
{"t":"PPT","g":"acute","s":"a3","z":0.5},{"t":"PPT","g":"acute","s":"a6","z":-0.5},{"t":"PPT","g":"acute","s":"a1","z":-1.5}
 ],
 "ptsB": [
{"t":"CDT-leg","g":"controls","s":"c3","z":1.4},{"t":"CDT-leg","g":"controls","s":"c6","z":1.2},{"t":"CDT-leg","g":"controls","s":"c1","z":1.1},{"t":"CDT-leg","g":"controls","s":"c5","z":0.9},{"t":"CDT-leg","g":"controls","s":"c2","z":0.8},{"t":"CDT-leg","g":"controls","s":"c7","z":0.6},{"t":"CDT-leg","g":"controls","s":"c4","z":0.5},
{"t":"CDT-leg","g":"controls","s":"c3","z":0.3},{"t":"CDT-leg","g":"controls","s":"c6","z":0.2},{"t":"CDT-leg","g":"controls","s":"c1","z":0.0},{"t":"CDT-leg","g":"controls","s":"c5","z":-0.1},{"t":"CDT-leg","g":"controls","s":"c2","z":-0.3},{"t":"CDT-leg","g":"controls","s":"c7","z":-0.5},{"t":"CDT-leg","g":"controls","s":"c4","z":-0.7},
{"t":"CDT-leg","g":"controls","s":"c3","z":-0.9},{"t":"CDT-leg","g":"controls","s":"c6","z":-1.1},{"t":"CDT-leg","g":"controls","s":"c1","z":-1.3},{"t":"CDT-leg","g":"controls","s":"c5","z":-1.5},{"t":"CDT-leg","g":"controls","s":"c6","z":-2.9},{"t":"CDT-leg","g":"controls","s":"c7","z":0.7},{"t":"CDT-leg","g":"controls","s":"c4","z":-0.4},
{"t":"CDT-leg","g":"acute","s":"a3","z":1.85},{"t":"CDT-leg","g":"acute","s":"a6","z":1.6},{"t":"CDT-leg","g":"acute","s":"a1","z":1.5},{"t":"CDT-leg","g":"acute","s":"a5","z":1.3},{"t":"CDT-leg","g":"acute","s":"a2","z":1.2},{"t":"CDT-leg","g":"acute","s":"a7","z":1.0},{"t":"CDT-leg","g":"acute","s":"a4","z":0.9},
{"t":"CDT-leg","g":"acute","s":"a3","z":0.7},{"t":"CDT-leg","g":"acute","s":"a6","z":0.6},{"t":"CDT-leg","g":"acute","s":"a1","z":0.4},{"t":"CDT-leg","g":"acute","s":"a5","z":0.3},{"t":"CDT-leg","g":"acute","s":"a2","z":0.1},{"t":"CDT-leg","g":"acute","s":"a7","z":0.0},{"t":"CDT-leg","g":"acute","s":"a4","z":-0.2},
{"t":"CDT-leg","g":"acute","s":"a3","z":-0.3},{"t":"CDT-leg","g":"acute","s":"a6","z":-0.5},{"t":"CDT-leg","g":"acute","s":"a1","z":-0.7},{"t":"CDT-leg","g":"acute","s":"a5","z":-0.9},{"t":"CDT-leg","g":"acute","s":"a2","z":-1.1},{"t":"CDT-leg","g":"acute","s":"a7","z":-1.3},{"t":"CDT-leg","g":"acute","s":"a4","z":-1.5},
{"t":"CDT-leg","g":"acute","s":"a3","z":-1.7},{"t":"CDT-leg","g":"acute","s":"a6","z":-1.9},{"t":"CDT-leg","g":"acute","s":"a1","z":-2.1},{"t":"CDT-leg","g":"acute","s":"a5","z":-2.6},{"t":"CDT-leg","g":"acute","s":"a2","z":-3.2},{"t":"CDT-leg","g":"acute","s":"a7","z":-3.8},{"t":"CDT-leg","g":"acute","s":"a4","z":-4.4},
{"t":"CDT-leg","g":"acute","s":"a3","z":-4.8},{"t":"CDT-leg","g":"acute","s":"a6","z":-5.6},{"t":"CDT-leg","g":"acute","s":"a1","z":-6.3},{"t":"CDT-leg","g":"acute","s":"a5","z":-6.8},{"t":"CDT-leg","g":"acute","s":"a2","z":-7.5},{"t":"CDT-leg","g":"acute","s":"a7","z":-7.5},{"t":"CDT-leg","g":"acute","s":"a4","z":-7.9},
{"t":"CDT-leg","g":"acute","s":"a3","z":-10.4},{"t":"CDT-leg","g":"acute","s":"a6","z":-20.6},{"t":"CDT-leg","g":"acute","s":"a1","z":0.8},{"t":"CDT-leg","g":"acute","s":"a5","z":-0.6},{"t":"CDT-leg","g":"acute","s":"a2","z":1.1},
{"t":"WDT-leg","g":"controls","s":"c3","z":1.6},{"t":"WDT-leg","g":"controls","s":"c6","z":1.3},{"t":"WDT-leg","g":"controls","s":"c1","z":1.1},{"t":"WDT-leg","g":"controls","s":"c5","z":0.9},{"t":"WDT-leg","g":"controls","s":"c2","z":0.7},{"t":"WDT-leg","g":"controls","s":"c7","z":0.5},{"t":"WDT-leg","g":"controls","s":"c4","z":0.3},
{"t":"WDT-leg","g":"controls","s":"c3","z":0.1},{"t":"WDT-leg","g":"controls","s":"c6","z":-0.1},{"t":"WDT-leg","g":"controls","s":"c1","z":-0.3},{"t":"WDT-leg","g":"controls","s":"c5","z":-0.5},{"t":"WDT-leg","g":"controls","s":"c2","z":-0.7},{"t":"WDT-leg","g":"controls","s":"c7","z":-0.9},{"t":"WDT-leg","g":"controls","s":"c4","z":-1.2},
{"t":"WDT-leg","g":"controls","s":"c3","z":-1.5},{"t":"WDT-leg","g":"controls","s":"c6","z":-1.9},{"t":"WDT-leg","g":"controls","s":"c1","z":-2.4},{"t":"WDT-leg","g":"controls","s":"c5","z":0.4},{"t":"WDT-leg","g":"controls","s":"c2","z":-0.2},
{"t":"WDT-leg","g":"acute","s":"a3","z":2.0},{"t":"WDT-leg","g":"acute","s":"a6","z":1.8},{"t":"WDT-leg","g":"acute","s":"a1","z":1.6},{"t":"WDT-leg","g":"acute","s":"a5","z":1.4},{"t":"WDT-leg","g":"acute","s":"a2","z":1.2},{"t":"WDT-leg","g":"acute","s":"a7","z":1.0},{"t":"WDT-leg","g":"acute","s":"a4","z":0.8},
{"t":"WDT-leg","g":"acute","s":"a3","z":0.6},{"t":"WDT-leg","g":"acute","s":"a6","z":0.4},{"t":"WDT-leg","g":"acute","s":"a1","z":0.2},{"t":"WDT-leg","g":"acute","s":"a5","z":0.0},{"t":"WDT-leg","g":"acute","s":"a2","z":-0.2},{"t":"WDT-leg","g":"acute","s":"a7","z":-0.4},{"t":"WDT-leg","g":"acute","s":"a4","z":-0.6},
{"t":"WDT-leg","g":"acute","s":"a3","z":-0.8},{"t":"WDT-leg","g":"acute","s":"a6","z":-1.0},{"t":"WDT-leg","g":"acute","s":"a1","z":-1.2},{"t":"WDT-leg","g":"acute","s":"a5","z":-1.4},{"t":"WDT-leg","g":"acute","s":"a2","z":-1.6},{"t":"WDT-leg","g":"acute","s":"a7","z":-1.8},{"t":"WDT-leg","g":"acute","s":"a4","z":-2.0},
{"t":"WDT-leg","g":"acute","s":"a3","z":-2.3},{"t":"WDT-leg","g":"acute","s":"a6","z":-2.6},{"t":"WDT-leg","g":"acute","s":"a1","z":-2.9},{"t":"WDT-leg","g":"acute","s":"a5","z":-3.1},{"t":"WDT-leg","g":"acute","s":"a2","z":-4.0},{"t":"WDT-leg","g":"acute","s":"a7","z":-5.1},{"t":"WDT-leg","g":"acute","s":"a4","z":-6.3},
{"t":"WDT-leg","g":"acute","s":"a3","z":0.5},{"t":"WDT-leg","g":"acute","s":"a6","z":-0.5},{"t":"WDT-leg","g":"acute","s":"a1","z":1.5},{"t":"WDT-leg","g":"acute","s":"a5","z":-1.1},
{"t":"PPT-leg","g":"controls","s":"c3","z":1.8},{"t":"PPT-leg","g":"controls","s":"c6","z":1.5},{"t":"PPT-leg","g":"controls","s":"c1","z":1.3},{"t":"PPT-leg","g":"controls","s":"c5","z":1.1},{"t":"PPT-leg","g":"controls","s":"c2","z":0.9},{"t":"PPT-leg","g":"controls","s":"c7","z":0.7},{"t":"PPT-leg","g":"controls","s":"c4","z":0.5},
{"t":"PPT-leg","g":"controls","s":"c3","z":0.3},{"t":"PPT-leg","g":"controls","s":"c6","z":0.1},{"t":"PPT-leg","g":"controls","s":"c1","z":-0.1},{"t":"PPT-leg","g":"controls","s":"c5","z":-0.3},{"t":"PPT-leg","g":"controls","s":"c2","z":-0.5},{"t":"PPT-leg","g":"controls","s":"c7","z":-0.7},{"t":"PPT-leg","g":"controls","s":"c4","z":-1.0},
{"t":"PPT-leg","g":"controls","s":"c3","z":-1.3},{"t":"PPT-leg","g":"controls","s":"c6","z":-1.6},{"t":"PPT-leg","g":"controls","s":"c1","z":-2.1},{"t":"PPT-leg","g":"controls","s":"c5","z":0.4},{"t":"PPT-leg","g":"controls","s":"c2","z":-0.2},
{"t":"PPT-leg","g":"acute","s":"a3","z":3.6},{"t":"PPT-leg","g":"acute","s":"a6","z":2.6},{"t":"PPT-leg","g":"acute","s":"a1","z":2.4},{"t":"PPT-leg","g":"acute","s":"a5","z":2.2},{"t":"PPT-leg","g":"acute","s":"a2","z":2.0},{"t":"PPT-leg","g":"acute","s":"a7","z":1.8},{"t":"PPT-leg","g":"acute","s":"a4","z":1.6},
{"t":"PPT-leg","g":"acute","s":"a3","z":1.4},{"t":"PPT-leg","g":"acute","s":"a6","z":1.2},{"t":"PPT-leg","g":"acute","s":"a1","z":1.0},{"t":"PPT-leg","g":"acute","s":"a5","z":0.8},{"t":"PPT-leg","g":"acute","s":"a2","z":0.6},{"t":"PPT-leg","g":"acute","s":"a7","z":0.4},{"t":"PPT-leg","g":"acute","s":"a4","z":0.2},
{"t":"PPT-leg","g":"acute","s":"a3","z":0.0},{"t":"PPT-leg","g":"acute","s":"a6","z":-0.2},{"t":"PPT-leg","g":"acute","s":"a1","z":-0.4},{"t":"PPT-leg","g":"acute","s":"a5","z":-0.6},{"t":"PPT-leg","g":"acute","s":"a2","z":-0.8},{"t":"PPT-leg","g":"acute","s":"a7","z":-1.0},{"t":"PPT-leg","g":"acute","s":"a4","z":-1.2},
{"t":"PPT-leg","g":"acute","s":"a3","z":-1.4},{"t":"PPT-leg","g":"acute","s":"a6","z":-1.6},{"t":"PPT-leg","g":"acute","s":"a1","z":-1.8},{"t":"PPT-leg","g":"acute","s":"a5","z":-2.0},{"t":"PPT-leg","g":"acute","s":"a2","z":-2.2},{"t":"PPT-leg","g":"acute","s":"a7","z":-2.5},{"t":"PPT-leg","g":"acute","s":"a4","z":-7.2},
{"t":"PPT-leg","g":"acute","s":"a3","z":0.5},{"t":"PPT-leg","g":"acute","s":"a6","z":-0.5},{"t":"PPT-leg","g":"acute","s":"a1","z":1.3},{"t":"PPT-leg","g":"acute","s":"a5","z":-1.1}
 ]
},
"resolve": {"scale": {"x": "independent", "y": "independent", "xOffset": "independent", "color": "independent"}, "legend": {"color": "independent"}, "axis": {"x": "independent", "y": "independent"}},
"spacing": 43,
"vconcat": [
 {
  "width": 967, "height": 415,
  "title": {"text": "QST at index finger", "offset": 11},
  "resolve": {"scale": {"xOffset": "independent"}},
  "layer": [
   {"data": {"name": "ptsA"}, "mark": {"type": "circle", "size": 25, "opacity": 1},
    "encoding": {
     "x": {"field": "t", "type": "nominal", "scale": {"type": "band", "domain": ["CDT","WDT","TSL","CPT","HPT","MDT","MPT","MPS","WUR","VDT","PPT"], "paddingInner": 0, "paddingOuter": 0.1}, "axis": {"title": null, "labelAngle": 0}},
     "xOffset": {"field": "s", "type": "nominal", "scale": {"type": "point", "padding": 0, "range": [21.6, 64.7], "domain": ["c1","c2","c3","c4","c5","c6","c7","g1","g2","g3","g4","g5","g6","g7","g8","g9","g10","g11","g12","g13","g14","g15","g16","g17","a1","a2","a3","a4","a5","a6","a7"]}},
     "y": {"field": "z", "type": "quantitative", "scale": {"domain": [-32, 17.2], "nice": false, "zero": false},
       "axis": {"values": [10, 0, -10, -20, -30], "labelExpr": "'' + datum.value", "titleFontSize": 14.5, "titleLineHeight": 33, "titleY": 199, "titlePadding": 5,
        "title": ["\u200b\u00a0\u00a0\u00a0\u00a0\u00a0\u00a0\u00a0\u00a0\u00a0\u00a0\u00a0\u00a0\u00a0\u00a0\u00a0\u00a0\u00a0\u00a0\u00a0\u00a0\u00a0\u00a0\u00a0\u00a0\u00a0\u00a0\u00a0\u00a0\u00a0\u00a0\u00a0\u00a0\u00a0\u00a0\u00a0\u00a0\u00a0\u00a0\u00a0\u00a0Z scores", "Loss of function\u00a0\u00a0\u00a0\u00a0\u00a0\u00a0\u00a0\u00a0\u00a0\u00a0\u00a0\u00a0\u00a0\u00a0\u00a0\u00a0\u00a0\u00a0\u00a0\u00a0\u00a0\u00a0\u00a0\u00a0\u00a0\u00a0\u00a0\u00a0\u00a0\u00a0\u00a0\u00a0\u00a0Gain of function"]}},
     "color": {"field": "g", "type": "nominal", "scale": {"domain": ["controls", "acute"], "range": ["#C9A25C", "#005B8F"]}, "legend": {"title": "group", "legendX": 996, "legendY": 165}}
    }},
   {"data": {"name": "refs"}, "mark": {"type": "rule", "color": "#000000", "strokeWidth": 1.6, "strokeDash": [9, 5]},
    "encoding": {"y": {"field": "v", "type": "quantitative"}}},
   {"data": {"values": [{"v": 0}]}, "mark": {"type": "rule", "color": "#000000", "strokeWidth": 1.6},
    "encoding": {"y": {"field": "v", "type": "quantitative"}}},
   {"data": {"name": "sumA"}, "mark": {"type": "rule", "color": "#000000", "strokeWidth": 2},
    "encoding": {
     "x": {"field": "t", "type": "nominal", "scale": {"type": "band", "domain": ["CDT","WDT","TSL","CPT","HPT","MDT","MPT","MPS","WUR","VDT","PPT"], "paddingInner": 0, "paddingOuter": 0.1}},
     "xOffset": {"field": "g", "type": "nominal", "scale": {"type": "point", "padding": 0, "domain": ["controls", "acute"], "range": [25.9, 60.4]}},
     "y": {"field": "lo", "type": "quantitative"}, "y2": {"field": "hi"}}},
   {"data": {"name": "sumA"}, "mark": {"type": "circle", "color": "#000000", "size": 200, "opacity": 1},
    "encoding": {
     "x": {"field": "t", "type": "nominal", "scale": {"type": "band", "domain": ["CDT","WDT","TSL","CPT","HPT","MDT","MPT","MPS","WUR","VDT","PPT"], "paddingInner": 0, "paddingOuter": 0.1}},
     "xOffset": {"field": "g", "type": "nominal", "scale": {"type": "point", "padding": 0, "domain": ["controls", "acute"], "range": [25.9, 60.4]}},
     "y": {"field": "m", "type": "quantitative"}}},
   {"data": {"name": "annA"}, "mark": {"type": "text", "fontSize": 22, "baseline": "alphabetic", "align": "center", "color": "#000000"},
    "encoding": {"x": {"field": "t", "type": "nominal"}, "y": {"field": "z", "type": "quantitative"}, "text": {"field": "lab"}}},
   {"data": {"name": "annA2"}, "mark": {"type": "text", "fontSize": 15, "baseline": "alphabetic", "align": "center", "color": "#000000"},
    "encoding": {"x": {"field": "t", "type": "nominal"}, "y": {"field": "z", "type": "quantitative"}, "text": {"field": "lab"}}}
  ]
 },
 {
  "spacing": 0,
  "resolve": {"scale": {"x": "independent", "y": "independent", "xOffset": "independent"}},
  "hconcat": [
   {"width": 60, "height": 277,
    "title": {"text": "B:", "anchor": "end", "fontSize": 20, "fontWeight": "normal", "offset": 27, "dx": 2},
    "data": {"values": []}, "mark": {"type": "point", "opacity": 0}, "encoding": {}},
   {
    "width": 617, "height": 277,
    "title": {"text": "QST at leg", "offset": -57},
    "resolve": {"scale": {"xOffset": "independent"}},
    "layer": [
     {"data": {"name": "ptsB"}, "mark": {"type": "circle", "size": 25, "opacity": 1},
      "encoding": {
       "x": {"field": "t", "type": "nominal", "scale": {"type": "band", "domain": ["CDT-leg","WDT-leg","PPT-leg"], "paddingInner": 0, "paddingOuter": 0.1}, "axis": {"title": null, "labelAngle": 0}},
       "xOffset": {"field": "s", "type": "nominal", "scale": {"type": "point", "padding": 0, "range": [48.3, 145.0], "domain": ["c1","c2","c3","c4","c5","c6","c7","g1","g2","g3","g4","g5","g6","g7","g8","g9","g10","g11","g12","g13","g14","g15","g16","g17","a1","a2","a3","a4","a5","a6","a7"]}},
       "y": {"field": "z", "type": "quantitative", "scale": {"domain": [-23.3, 6.2], "nice": false, "zero": false},
         "axis": {"values": [0, -10, -20], "labelExpr": "'' + datum.value", "titleFontSize": 14.5, "titleLineHeight": 33, "titleY": 102, "titlePadding": 5,
          "title": ["Z scores\u00a0\u00a0\u00a0\u00a0\u00a0\u00a0\u00a0\u00a0\u00a0\u00a0\u00a0\u00a0\u00a0\u00a0\u00a0\u00a0\u00a0\u200b", "Loss of function\u00a0\u00a0\u00a0\u00a0\u00a0\u00a0\u00a0\u00a0\u00a0\u00a0\u00a0\u00a0\u00a0\u00a0\u00a0\u00a0\u00a0\u00a0\u00a0\u00a0\u00a0\u00a0\u00a0\u00a0\u00a0\u00a0\u00a0\u00a0\u00a0\u00a0\u00a0\u00a0\u00a0Gain of function"]}},
       "color": {"field": "g", "type": "nominal", "scale": {"domain": ["controls", "acute"], "range": ["#C9A25C", "#005B8F"]}, "legend": {"title": "group", "legendX": 797, "legendY": 96}}
      }},
     {"data": {"name": "refs"}, "mark": {"type": "rule", "color": "#000000", "strokeWidth": 1.6, "strokeDash": [9, 5]},
      "encoding": {"y": {"field": "v", "type": "quantitative"}}},
     {"data": {"values": [{"v": 0}]}, "mark": {"type": "rule", "color": "#000000", "strokeWidth": 1.6},
      "encoding": {"y": {"field": "v", "type": "quantitative"}}},
     {"data": {"name": "sumB"}, "mark": {"type": "rule", "color": "#000000", "strokeWidth": 2},
      "encoding": {
       "x": {"field": "t", "type": "nominal", "scale": {"type": "band", "domain": ["CDT-leg","WDT-leg","PPT-leg"], "paddingInner": 0, "paddingOuter": 0.1}},
       "xOffset": {"field": "g", "type": "nominal", "scale": {"type": "point", "padding": 0, "domain": ["controls", "acute"], "range": [58.0, 135.3]}},
       "y": {"field": "lo", "type": "quantitative"}, "y2": {"field": "hi"}}},
     {"data": {"name": "sumB"}, "mark": {"type": "circle", "color": "#000000", "size": 200, "opacity": 1},
      "encoding": {
       "x": {"field": "t", "type": "nominal", "scale": {"type": "band", "domain": ["CDT-leg","WDT-leg","PPT-leg"], "paddingInner": 0, "paddingOuter": 0.1}},
       "xOffset": {"field": "g", "type": "nominal", "scale": {"type": "point", "padding": 0, "domain": ["controls", "acute"], "range": [58.0, 135.3]}},
       "y": {"field": "m", "type": "quantitative"}}},
     {"data": {"name": "annB"}, "mark": {"type": "text", "fontSize": 16, "baseline": "alphabetic", "align": "center", "color": "#000000"},
      "encoding": {"x": {"field": "t", "type": "nominal"}, "y": {"field": "z", "type": "quantitative"}, "text": {"field": "lab"}}}
    ]
   }
  ]
 }
]
}
